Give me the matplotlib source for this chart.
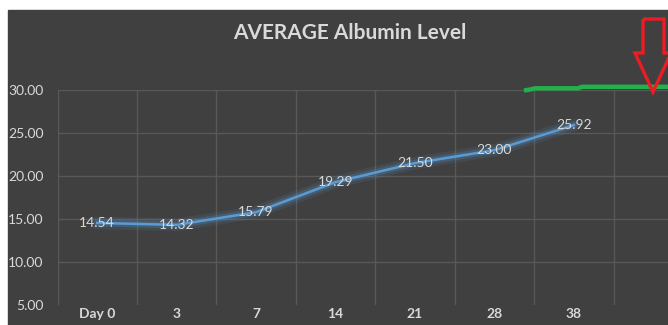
import matplotlib
matplotlib.use("Agg")
import matplotlib.pyplot as plt
from matplotlib.patches import Rectangle, Polygon
from matplotlib.lines import Line2D

# Chart data
CATEGORIES = ["Day 0", "3", "7", "14", "21", "28", "38", ""]
ALBUMIN = [14.54, 14.32, 15.79, 19.29, 21.50, 23.00, 25.92]
Y_TICKS = [5, 10, 15, 20, 25, 30]
TITLE = "AVERAGE Albumin Level"

# Styles
W_PX, H_PX = 668, 325
BG_COLOR = "#404040"
GRID_COLOR = "#585858"
TEXT_COLOR = "#d9d9d9"
LINE_COLOR = "#5b9bd5"
GREEN = "#22b14c"
RED = "#ed1c24"
FONT = ["Lato", "DejaVu Sans"]

plt.rcParams["font.family"] = FONT

fig = plt.figure(figsize=(W_PX / 100, H_PX / 100), dpi=100)
fig.patch.set_facecolor("white")


def px(x, y):
    # pixel position (from top-left) -> figure fraction
    return (x / W_PX, 1 - y / H_PX)


# dark chart panel (behind the axes)
fig.patches.append(Rectangle(px(8, H_PX), 1, (H_PX - 10) / H_PX,
                             transform=fig.transFigure, color=BG_COLOR, zorder=-5))

left, right, top, bottom = 57.5, 693, 90, 305
ax = fig.add_axes([left / W_PX, 1 - bottom / H_PX, (right - left) / W_PX, (bottom - top) / H_PX])
ax.set_facecolor("none")
for s in ax.spines.values():
    s.set_visible(False)

x = list(range(len(ALBUMIN)))
ax.set_xlim(-0.5, len(CATEGORIES) - 0.5)
ax.set_ylim(Y_TICKS[0], Y_TICKS[-1])

# gridlines
for yv in Y_TICKS[1:]:
    ax.axhline(yv, color=GRID_COLOR, lw=1, zorder=1)
for i in range(len(CATEGORIES) + 1):
    ax.axvline(i - 0.5, color=GRID_COLOR, lw=1, zorder=1)

# glowing line
ax.plot(x, ALBUMIN, color=LINE_COLOR, lw=9, alpha=0.12, solid_capstyle="round", zorder=2)
ax.plot(x, ALBUMIN, color=LINE_COLOR, lw=5, alpha=0.22, solid_capstyle="round", zorder=2)
ax.plot(x, ALBUMIN, color=LINE_COLOR, lw=1.8, zorder=3)

for xi, v in zip(x, ALBUMIN):
    ax.text(xi, v, f"{v:.2f}", ha="center", va="center", fontsize=10,
            color=TEXT_COLOR, zorder=4)

ax.set_yticks(Y_TICKS)
ax.set_yticklabels([f"{v:.2f}" for v in Y_TICKS])
ax.set_xticks(range(len(CATEGORIES)))
ax.set_xticklabels(CATEGORIES, fontweight="bold")
ax.tick_params(axis="y", length=0, pad=10, labelsize=10, labelcolor=TEXT_COLOR)
ax.tick_params(axis="x", length=0, pad=2, labelsize=10, labelcolor=TEXT_COLOR)

fig.text(0.524, px(0, 33)[1], TITLE, ha="center", va="center", fontsize=15,
         fontweight="bold", color=TEXT_COLOR)

# hand-drawn green marker line
green_x = [524, 530, 535, 578, 582, 680]
green_y = [90.5, 89.5, 88.3, 88.3, 86.8, 86.8]
gx, gy = zip(*[px(a, b) for a, b in zip(green_x, green_y)])
fig.lines.append(Line2D(gx, gy, transform=fig.transFigure, color=GREEN, lw=3.2,
                        solid_capstyle="butt", zorder=5))

# hand-drawn red arrow outline
arrow_px = [(643, 19), (664, 19), (664, 53), (671, 53), (653, 92), (635, 53), (643, 53)]
fig.patches.append(Polygon([px(a, b) for a, b in arrow_px], closed=True, fill=False,
                           edgecolor=RED, lw=2.4, transform=fig.transFigure, zorder=6))

fig.savefig("out.png", dpi=100)
